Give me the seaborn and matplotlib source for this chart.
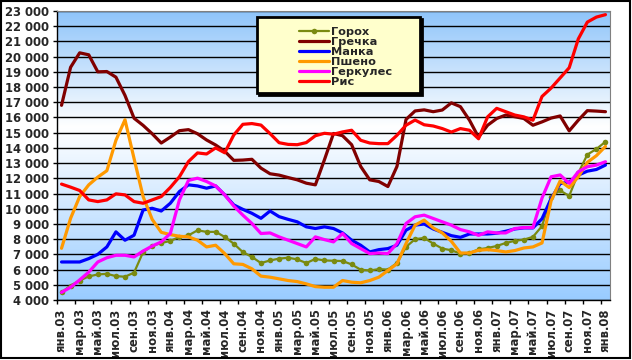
import numpy as np
import pandas as pd
import matplotlib
matplotlib.use("Agg")
import matplotlib.pyplot as plt
from matplotlib.patches import Rectangle
from matplotlib.lines import Line2D
import seaborn as sns

# monthly prices, янв.03 .. янв.08 (61 months)
tick_labels = ["янв.03", "мар.03", "май.03", "июл.03", "сен.03", "ноя.03",
               "янв.04", "мар.04", "май.04", "июл.04", "сен.04", "ноя.04",
               "янв.05", "мар.05", "май.05", "июл.05", "сен.05", "ноя.05",
               "янв.06", "мар.06", "май.06", "июл.06", "сен.06", "ноя.06",
               "янв.07", "мар.07", "май.07", "июл.07", "сен.07", "ноя.07",
               "янв.08"]

gorokh = [4500, 4950, 5280, 5550, 5680, 5720, 5570, 5530, 5800, 7150,
          7550, 7750, 7880, 8150, 8250, 8580, 8480, 8480, 8150, 7700,
          7150, 6830, 6430, 6600, 6720, 6780, 6670, 6430, 6700, 6600,
          6580, 6560, 6340, 5990, 5940, 6030, 6000, 6430, 7490, 8000,
          8080, 7710, 7380, 7270, 7050, 7090, 7330, 7420, 7550, 7750,
          7890, 7970, 8150, 8860, 10800, 11200, 10840, 12340, 13560, 13930,
          14400]

grechka = [16800, 19300, 20250, 20120, 19000, 19020, 18650, 17450, 15950, 15480,
           14930, 14320, 14710, 15130, 15200, 14930, 14520, 14190, 13780, 13180,
           13200, 13250, 12670, 12300, 12210, 12050, 11900, 11680, 11570, 13220,
           14950, 14800, 14210, 12780, 11900, 11790, 11460, 12780, 15870, 16430,
           16500, 16380, 16490, 16960, 16710, 15820, 14700, 15490, 15930, 16160,
           16050, 15930, 15490, 15710, 15960, 16100, 15120, 15820, 16450, 16420,
           16380]

manka = [6500, 6500, 6500, 6720, 7000, 7490, 8480, 7930, 8260, 9920,
         10030, 9850, 10360, 11130, 11570, 11500, 11350, 11500, 10910, 10250,
         9960, 9700, 9370, 9850, 9480, 9300, 9140, 8810, 8700, 8810,
         8700, 8410, 7930, 7600, 7160, 7310, 7380, 7600, 8590, 8920,
         9000, 8670, 8450, 8230, 8120, 8340, 8340, 8340, 8390, 8520,
         8670, 8740, 8740, 9340, 10660, 11650, 11760, 12210, 12470, 12580,
         12870]

psheno = [7400, 9370, 10800, 11570, 12080, 12500, 14500, 15850, 13300, 10800,
          9300, 8450, 8300, 8190, 8150, 7930, 7490, 7600, 7050, 6380,
          6340, 6050, 5570, 5500, 5390, 5280, 5210, 5060, 4880, 4840,
          4840, 5280, 5170, 5130, 5280, 5500, 5940, 6380, 7710, 8920,
          9250, 8740, 8410, 7860, 7090, 7090, 7270, 7310, 7250, 7160,
          7250, 7420, 7490, 7750, 10510, 11830, 11390, 12100, 13050, 13490,
          14100]

gerkules = [4500, 4840, 5320, 5830, 6500, 6780, 6940, 6940, 6830, 7220,
            7550, 7820, 8370, 10580, 11860, 12010, 11790, 11500, 10910, 10180,
            9580, 9030, 8370, 8410, 8150, 7930, 7710, 7490, 8150, 7970,
            7820, 8370, 7710, 7380, 7050, 7090, 7050, 7710, 9030, 9470,
            9580, 9360, 9140, 8920, 8630, 8480, 8250, 8480, 8410, 8410,
            8700, 8760, 8760, 10700, 12100, 12220, 11670, 12430, 12760, 12870,
            13090]

ris = [11620, 11420, 11200, 10580, 10470, 10580, 10980, 10910, 10470, 10360,
       10580, 10800, 11400, 12100, 13100, 13670, 13600, 14000, 13680, 14850,
       15550, 15600, 15500, 14940, 14340, 14230, 14210, 14350, 14800, 14960,
       14900, 15050, 15160, 14500, 14320, 14280, 14280, 14830, 15490, 15830,
       15520, 15440, 15270, 15040, 15270, 15160, 14600, 16040, 16600, 16380,
       16160, 16040, 15820, 17380, 17930, 18600, 19270, 21160, 22270, 22600,
       22760]

series = [
    ("Горох", gorokh, "#7A8A10"),
    ("Гречка", grechka, "#800000"),
    ("Манка", manka, "#0000FF"),
    ("Пшено", psheno, "#FF9900"),
    ("Геркулес", gerkules, "#FF00FF"),
    ("Рис", ris, "#FF0000"),
]

sns.set_theme(style="white", rc={"axes.facecolor": "#99CCFF"})
plt.rcParams["font.family"] = ["DejaVu Sans"]

fig, ax = plt.subplots(figsize=(6.32, 3.6), dpi=100)
fig.subplots_adjust(left=57 / 632, right=610 / 632, bottom=60 / 360, top=349 / 360)

# plot area gradient: blue at top and bottom, white in the upper middle
t = np.linspace(0, 1, 300)  # 0 = top, 1 = bottom
stops = [0, 0.4, 1]
top_c, mid_c, bot_c = (0.56, 0.77, 0.98), (1.0, 1.0, 1.0), (0.6, 0.8, 1.0)
grad = np.stack([np.interp(t, stops, [top_c[k], mid_c[k], bot_c[k]]) for k in range(3)], axis=-1)
grad = np.repeat(grad[:, None, :], 4, axis=1)
ax.imshow(grad, extent=(-0.5, 60.5, 4000, 23000), aspect="auto",
          origin="upper", zorder=0.1, interpolation="bilinear")

months = np.arange(len(gorokh))

for name, vals, color in series:
    df = pd.DataFrame({"month": months, "price": vals})
    if name == "Горох":
        sns.lineplot(data=df, x="month", y="price", ax=ax, color=color, lw=1.6,
                     marker="o", markersize=4, markeredgewidth=0, zorder=3)
    else:
        sns.lineplot(data=df, x="month", y="price", ax=ax, color=color, lw=2.3,
                     zorder=3, solid_joinstyle="round")

ax.set_xlim(-0.5, 60.5)
ax.set_ylim(4000, 23000)
ax.set_xlabel("")
ax.set_ylabel("")

yt = list(range(4000, 23001, 1000))
ax.set_yticks(yt)
ax.set_yticklabels([f"{v:,}".replace(",", " ") for v in yt], fontsize=8.4, fontweight="bold")
ax.yaxis.grid(True, color="black", lw=1.0)
for gl in ax.get_ygridlines():
    gl.set_zorder(1)

ax.set_xticks(months[::2])
ax.set_xticklabels(tick_labels, rotation=90, fontsize=8.4, fontweight="bold")
ax.set_xticks(np.arange(-0.5, 60, 2), minor=True)
ax.tick_params(axis="x", which="major", length=0, pad=6)
ax.tick_params(axis="x", which="minor", length=3, width=1, color="black", direction="out", bottom=True)
ax.tick_params(axis="y", length=3, width=1, color="black", direction="out", left=True, pad=3)

for side in ["left", "bottom"]:
    ax.spines[side].set_color("black")
    ax.spines[side].set_linewidth(1.0)
for side in ["top", "right"]:
    ax.spines[side].set_color("#808080")
    ax.spines[side].set_linewidth(0.8)

# legend box with shadow
ax.add_patch(Rectangle((0.3617 + 0.004, 0.7152 - 0.007), 0.2947, 0.2651, transform=ax.transAxes,
                       fc="black", ec="black", lw=2.0, zorder=5))
ax.add_patch(Rectangle((0.3617, 0.7152), 0.2947, 0.2651, transform=ax.transAxes,
                       fc="#FFFFCC", ec="black", lw=2.0, zorder=5))
handles = []
for name, vals, color in series:
    if name == "Горох":
        handles.append(Line2D([], [], color=color, lw=1.6, marker="o", markersize=4, markeredgewidth=0))
    else:
        handles.append(Line2D([], [], color=color, lw=2.3))
leg = ax.legend(handles, [s[0] for s in series], loc="upper left", bbox_to_anchor=(0.4268, 0.965),
                frameon=False, borderpad=0, labelspacing=0.0, handlelength=2.7, handletextpad=0.15,
                prop={"size": 8.2, "weight": "bold"})
leg.set_zorder(6)

fig.add_artist(Rectangle((1 / 632, 2 / 360), 629 / 632, 357 / 360, transform=fig.transFigure,
                         fill=False, ec="black", lw=1.5, zorder=10))

plt.savefig("out.png", dpi=100, facecolor="white")
